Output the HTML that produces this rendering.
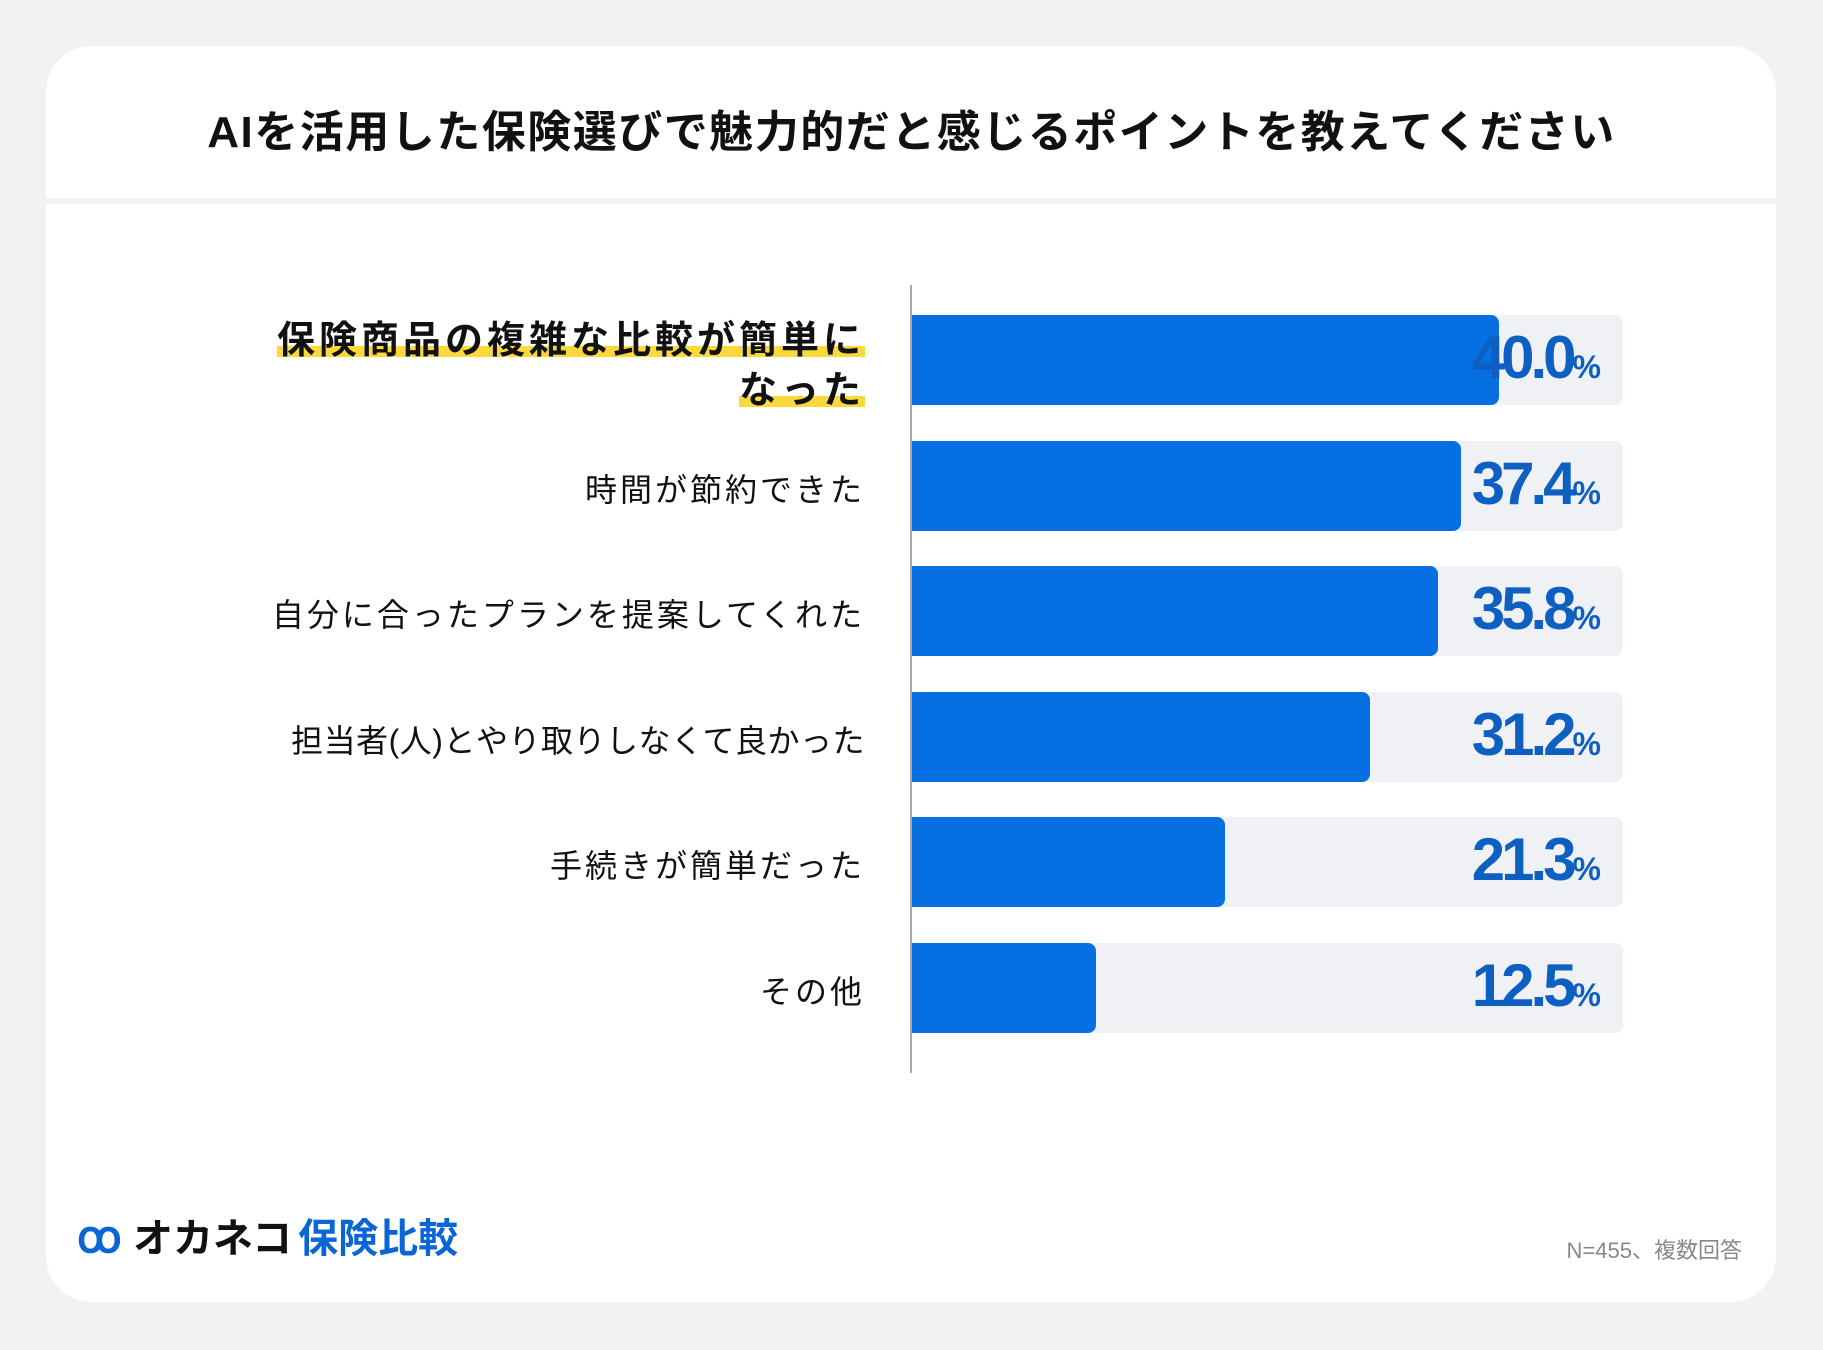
<!DOCTYPE html>
<html><head><meta charset="utf-8">
<style>
body{margin:0;width:1823px;height:1350px;background:#f1f2f4;font-family:"Liberation Sans","Noto Sans CJK JP",sans-serif;overflow:hidden;position:relative}
.card{position:absolute;left:46px;top:46px;width:1730px;height:1256px;background:#fff;border-radius:46px}
.title{position:absolute;left:0;right:0;top:96px;text-align:center;font-size:44px;font-weight:bold;color:#111;letter-spacing:1.5px}
.divider{position:absolute;left:46px;width:1730px;top:198px;height:6px;background:#f0f1f3}
.lbl{position:absolute;right:958px;text-align:right;font-size:32px;letter-spacing:3px;color:#111;white-space:nowrap}
.lbl.hl{font-weight:bold;font-size:38px;letter-spacing:4px;line-height:50px}
.hl span{background:linear-gradient(transparent 62%,#fcd93a 62%,#fcd93a 88%,transparent 88%)}
.val{position:absolute;right:223px;font-weight:bold;color:#0d5fc2;font-size:60px;letter-spacing:-4px;font-family:"Liberation Sans Narrow","Liberation Sans",sans-serif}
.val small{font-size:32px;letter-spacing:-1px}
</style></head><body>
<div class="card"></div>
<div class="title">AIを活用した保険選びで魅力的だと感じるポイントを教えてください</div>
<div class="divider"></div>
<div id="chart"></div>
<div style="position:absolute;left:77px;top:1206px;font-size:40px;font-weight:bold;white-space:nowrap">
<span style="color:#0a66d6;font-size:44px">ꝏ</span> <span style="color:#111">オカネコ</span><span style="color:#0a66d6;margin-left:6px">保険比較</span></div>
<div style="position:absolute;right:81px;top:1233px;font-size:22px;color:#888">N=455、複数回答</div>
<script>
const categories=["保険商品の複雑な比較が簡単になった","時間が節約できた","自分に合ったプランを提案してくれた","担当者(人)とやり取りしなくて良かった","手続きが簡単だった","その他"];
const values=[40.0,37.4,35.8,31.2,21.3,12.5];
const labels=["40.0","37.4","35.8","31.2","21.3","12.5"];
const x0=912,pxPer=14.68,trackEnd=1623,top0=315,step=125.6,bh=90;
const xs=v=>v*pxPer;
const root=document.getElementById('chart');
const axis=document.createElement('div');


axis.style.cssText='position:absolute;left:910px;top:285px;width:2px;height:788px;background:#aaa';
root.appendChild(axis);
categories.forEach((c,i)=>{
  const y=top0+i*step;
  const tr=document.createElement('div');
  
  
  tr.style.cssText=`position:absolute;left:${x0}px;top:${y}px;width:${trackEnd-x0}px;height:${bh}px;background:#f0f1f4;border-radius:0 8px 8px 0`;
  root.appendChild(tr);
  const b=document.createElement('div');
  
  
  b.style.cssText=`position:absolute;left:${x0}px;top:${y}px;width:${xs(values[i])}px;height:${bh}px;background:#0670e3;border-radius:0 8px 8px 0`;
  root.appendChild(b);
  const v=document.createElement('div');
  
  
  v.className='val';
  v.style.top=(y+8)+'px';
  v.innerHTML=labels[i]+'<small>%</small>';
  root.appendChild(v);
  const l=document.createElement('div');
  
  
  if(i===0){l.className='lbl hl';l.style.top=(y+1)+'px';l.innerHTML='<span>保険商品の複雑な比較が簡単に</span><br><span>なった</span>';}
  else{l.className='lbl';l.style.top=(y+24)+'px';l.textContent=c;if(i===3)l.style.letterSpacing='0.5px';}
  root.appendChild(l);
});
</script>
</body></html>
